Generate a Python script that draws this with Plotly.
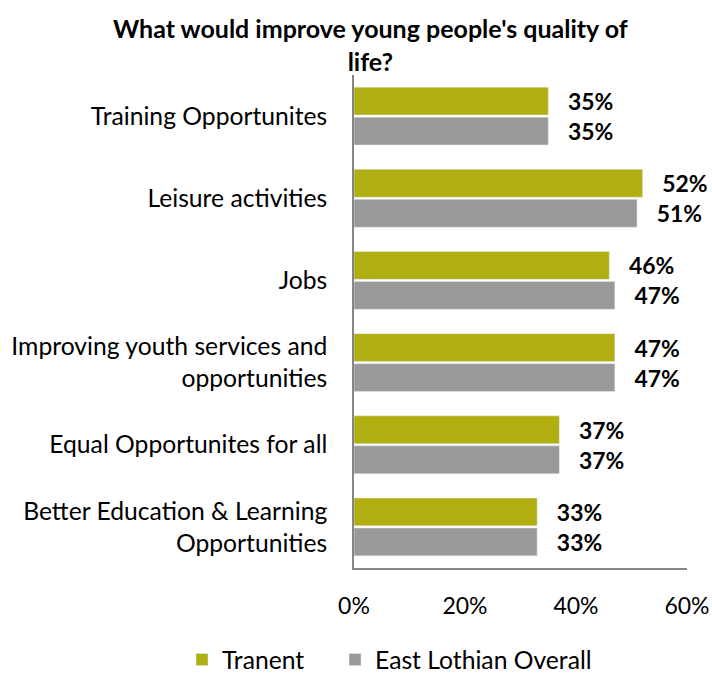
import plotly.graph_objects as go

categories = [
    "Training Opportunites",
    "Leisure activities",
    "Jobs",
    "Improving youth services and<br>opportunities",
    "Equal Opportunites for all",
    "Better Education & Learning<br>Opportunities",
]
tranent = [35, 52, 46, 47, 37, 33]
east_lothian = [35, 51, 47, 47, 37, 33]
x_ticks = [0, 20, 40, 60]
x_tick_labels = ["0%", "20%", "40%", "60%"]

FONT = "Lato, Open Sans, sans-serif"
PAD = "\u00a0\u00a0\u00a0"  # gap between bar end and value label

fig = go.Figure()
for name, vals, color, leg in [
    ("Tranent", tranent, "#B0AE10", "legend"),
    ("East Lothian Overall", east_lothian, "#999999", "legend2"),
]:
    fig.add_trace(go.Bar(
        y=categories, x=vals, orientation="h", name=name,
        marker=dict(color=color), legend=leg,
        text=[f"{PAD}{v}%" for v in vals], textposition="outside",
        textfont=dict(size=23, color="#000000", family=FONT, weight="bold"),
        cliponaxis=False,
    ))

legend_style = dict(
    orientation="h", xanchor="left", y=-0.1866, yanchor="middle",
    font=dict(size=24.7, family=FONT), bgcolor="rgba(0,0,0,0)",
)

fig.update_layout(
    width=712, height=673,
    margin=dict(l=354, r=25, t=75, b=105, autoexpand=False),
    paper_bgcolor="white", plot_bgcolor="white",
    font=dict(family=FONT, size=24.7, color="#000000"),
    barmode="group", bargap=0.27, bargroupgap=0.07,
    showlegend=True,
    legend=dict(x=-0.5165, **legend_style),
    legend2=dict(x=-0.057, **legend_style),
    annotations=[dict(
        text="<b>What would improve young people's quality of<br>life?</b>",
        xref="paper", yref="paper", x=0.05, y=1.062,
        xanchor="center", yanchor="middle", showarrow=False,
        font=dict(size=25, family=FONT), align="center",
    )],
    xaxis=dict(
        range=[0, 60], tickvals=x_ticks, ticktext=x_tick_labels,
        showgrid=False, zeroline=False, showline=True,
        linecolor="#868686", linewidth=1.5, ticks="",
        ticklabelstandoff=17, tickfont=dict(size=23), automargin=False,
    ),
    yaxis=dict(
        autorange="reversed", showgrid=False, showline=True,
        linecolor="#868686", linewidth=1.5, ticks="",
        ticklabelstandoff=20, tickfont=dict(size=24.7), automargin=False,
    ),
)

fig.write_html("out.html")
